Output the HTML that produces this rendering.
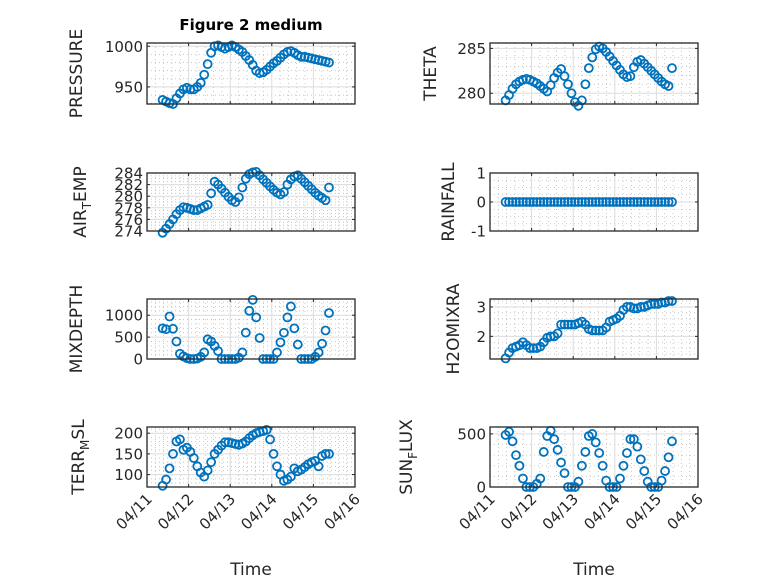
<!DOCTYPE html>
<html><head><meta charset="utf-8">
<style>
html,body{margin:0;padding:0;background:#fff;}
svg{display:block;font-family:"DejaVu Sans","Liberation Sans",sans-serif;}
</style></head>
<body>
<svg id="fig" width="778" height="583" viewBox="0 0 778 583" xmlns="http://www.w3.org/2000/svg">
<rect width="778" height="583" fill="#fff"/>
<text x="251" y="30" text-anchor="middle" font-size="15" font-weight="bold" fill="#000">Figure 2 medium</text>
</svg>
<script>
// time of sample k (days after 04/11 00:00): t0 + k*dt
const t0 = 0.375, dt = 1/12;
const xTickLabels = ["04/11","04/12","04/13","04/14","04/15","04/16"];
const pressure = [934,932,930,929,936,942,947,949,947,947,950,955,965,978,992,1000,1001,999,997,999,1001,999,996,993,988,983,977,970,967,968,971,975,979,982,986,990,993,994,992,989,987,987,986,985,984,983,982,981,980];
const theta = [279.2,279.8,280.5,281.0,281.3,281.5,281.6,281.5,281.3,281.1,280.8,280.5,280.2,280.9,281.7,282.3,282.7,281.9,281.0,280.0,279.0,278.6,279.2,281.0,282.8,284.0,284.9,285.2,285.0,284.6,284.1,283.6,283.1,282.6,282.1,281.8,281.9,282.9,283.5,283.7,283.3,282.9,282.5,282.1,281.7,281.3,281.0,280.8,282.8];
const airTemp = [273.7,274.4,275.2,276.0,276.9,277.6,278.1,278.0,277.8,277.6,277.6,277.9,278.2,278.5,280.5,282.5,282.0,281.3,280.6,279.9,279.3,279.0,279.8,281.5,283.0,283.8,284.1,284.2,283.6,282.9,282.3,281.7,281.1,280.6,280.3,280.7,282.0,282.9,283.4,283.6,283.0,282.4,281.8,281.2,280.6,280.1,279.7,279.3,281.5];
const rainfall = [0,0,0,0,0,0,0,0,0,0,0,0,0,0,0,0,0,0,0,0,0,0,0,0,0,0,0,0,0,0,0,0,0,0,0,0,0,0,0,0,0,0,0,0,0,0,0,0,0];
const mixDepth = [700,680,970,690,400,120,60,20,0,0,10,50,150,450,400,300,180,0,0,0,0,0,30,150,600,1100,1350,950,480,0,0,0,0,150,380,600,950,1200,700,330,0,0,0,0,50,150,350,650,1050];
const h2oMix = [1.25,1.45,1.6,1.65,1.7,1.8,1.7,1.6,1.6,1.6,1.65,1.8,1.95,2.0,2.0,2.1,2.4,2.4,2.4,2.4,2.4,2.45,2.5,2.4,2.25,2.2,2.2,2.2,2.2,2.3,2.5,2.55,2.6,2.7,2.9,3.0,3.0,2.95,2.95,3.0,3.0,3.05,3.1,3.1,3.1,3.15,3.15,3.2,3.2];
const terrMsl = [73,88,115,150,180,185,160,165,155,140,120,105,95,110,130,150,160,170,178,178,176,174,172,175,180,188,195,200,203,205,208,185,150,120,100,85,88,95,115,108,112,118,125,130,133,120,145,150,150];
const sunFlux = [490,520,430,300,200,80,0,0,0,30,80,330,480,530,450,350,230,130,0,0,0,50,200,330,480,500,420,320,200,60,0,0,0,80,200,320,450,450,380,260,150,50,0,0,0,60,150,280,430];
const pressureTicks = [950,1000];
const thetaTicks = [280,285];
const airTicks = [274,276,278,280,282,284];
const rainTicks = [-1,0,1];
const mixTicks = [0,500,1000];
const h2oTicks = [2,3];
const terrTicks = [100,150,200];
const sunTicks = [0,500];

const NS = "http://www.w3.org/2000/svg";
const svg = document.getElementById("fig");
function el(tag, attrs, parent){const e=document.createElementNS(NS,tag);for(const k in attrs)e.setAttribute(k,attrs[k]);(parent||svg).appendChild(e);return e;}

const panels = [
 {name:"pressure", data:pressure, ticks:pressureTicks, ylim:[929,1004], minor:10, col:0,row:0, lab:["PRESSURE"], lx:76},
 {name:"theta", data:theta, ticks:thetaTicks, ylim:[278.8,285.6], minor:1, col:1,row:0, lab:["THETA"], lx:430},
 {name:"air-temp", data:airTemp, ticks:airTicks, ylim:[274,284], minor:0.5, col:0,row:1, lab:["AIR","T","EMP"], lx:80},
 {name:"rainfall", data:rainfall, ticks:rainTicks, ylim:[-1,1], minor:0.25, col:1,row:1, lab:["RAINFALL"], lx:448},
 {name:"mixdepth", data:mixDepth, ticks:mixTicks, ylim:[0,1370], minor:100, col:0,row:2, lab:["MIXDEPTH"], lx:76},
 {name:"h2omixra", data:h2oMix, ticks:h2oTicks, ylim:[1.23,3.27], minor:0.2, col:1,row:2, lab:["H2OMIXRA"], lx:453},
 {name:"terr-msl", data:terrMsl, ticks:terrTicks, ylim:[70,215], minor:10, col:0,row:3, lab:["TERR","M","SL"], lx:78},
 {name:"sun-flux", data:sunFlux, ticks:sunTicks, ylim:[0,565], minor:100, col:1,row:3, lab:["SUN","F","LUX"], lx:406}
];
const colX = [147,490], W = 208;
const rowY = [[43,104],[173,231],[299,359],[427,487]];

panels.forEach(p=>{
  const x0=colX[p.col], x1=x0+W, y0=rowY[p.row][0], y1=rowY[p.row][1];
  const xs = t => x0 + (t/5)*W;
  const ys = v => y1 - (v-p.ylim[0])/(p.ylim[1]-p.ylim[0])*(y1-y0);
  const g = el("g",{});
  
  
  for(let t=0.2;t<5;t+=0.2){ if(Math.abs(t-Math.round(t))<1e-6) continue;
    el("line",{x1:xs(t),x2:xs(t),y1:y0,y2:y1,stroke:"#bbb","stroke-width":0.8,"stroke-dasharray":"1,3"},g);}
  for(let v=Math.ceil(p.ylim[0]/p.minor)*p.minor; v<p.ylim[1]; v+=p.minor){
    if(p.ticks.some(tk=>Math.abs(tk-v)<1e-6)) continue;
    el("line",{x1:x0,x2:x1,y1:ys(v),y2:ys(v),stroke:"#bbb","stroke-width":0.8,"stroke-dasharray":"1,3"},g);}
  for(let d=1;d<5;d++) el("line",{x1:xs(d),x2:xs(d),y1:y0,y2:y1,stroke:"#dcdcdc","stroke-width":1},g);
  p.ticks.forEach(v=>{
    el("line",{x1:x0,x2:x1,y1:ys(v),y2:ys(v),stroke:"#dcdcdc","stroke-width":1},g);
    el("line",{x1:x0,x2:x0+3,y1:ys(v),y2:ys(v),stroke:"#262626"},g);
    el("line",{x1:x1,x2:x1-3,y1:ys(v),y2:ys(v),stroke:"#262626"},g);
    const tl = el("text",{x:x0-4,y:ys(v)+5.5,"text-anchor":"end","font-size":15,fill:"#262626"},g);
    tl.textContent = String(v);
    
    
  });
  for(let d=0;d<=5;d++){
    el("line",{x1:xs(d),x2:xs(d),y1:y1,y2:y1-3,stroke:"#262626"},g);
    el("line",{x1:xs(d),x2:xs(d),y1:y0,y2:y0+3,stroke:"#262626"},g);
  }
  p.data.forEach((v,k)=>{
    const c = el("circle",{cx:xs(t0+k*dt),cy:ys(v),r:4,fill:"none",stroke:"#0072BD","stroke-width":1.8},g);
    
    
  });
  el("rect",{x:x0,y:y0,width:W,height:y1-y0,fill:"none",stroke:"#262626","stroke-width":1.3},g);
  const cy=(y0+y1)/2;
  const yl = el("text",{x:0,y:0,"text-anchor":"middle","font-size":17,fill:"#262626",transform:`translate(${p.lx+6},${cy}) rotate(-90)`},g);
  
  
  if(p.lab.length===1){ yl.textContent=p.lab[0]; }
  else{
    const a=el("tspan",{},yl); a.textContent=p.lab[0];
    const b=el("tspan",{dy:5,"font-size":12},yl); b.textContent=p.lab[1];
    const c=el("tspan",{dy:-5},yl); c.textContent=p.lab[2];
  }
  if(p.row===3){
    xTickLabels.forEach((s,d)=>{
      const xt = el("text",{"text-anchor":"end","font-size":15,fill:"#262626",transform:`translate(${xs(d)+6},${y1+13}) rotate(-45)`},g);
      xt.textContent=s;
      
      
    });
    const xl = el("text",{x:x0+W/2,y:575,"text-anchor":"middle","font-size":17,fill:"#262626"},g);
    xl.textContent="Time";
    
    
  }
});
</script>
</body></html>
